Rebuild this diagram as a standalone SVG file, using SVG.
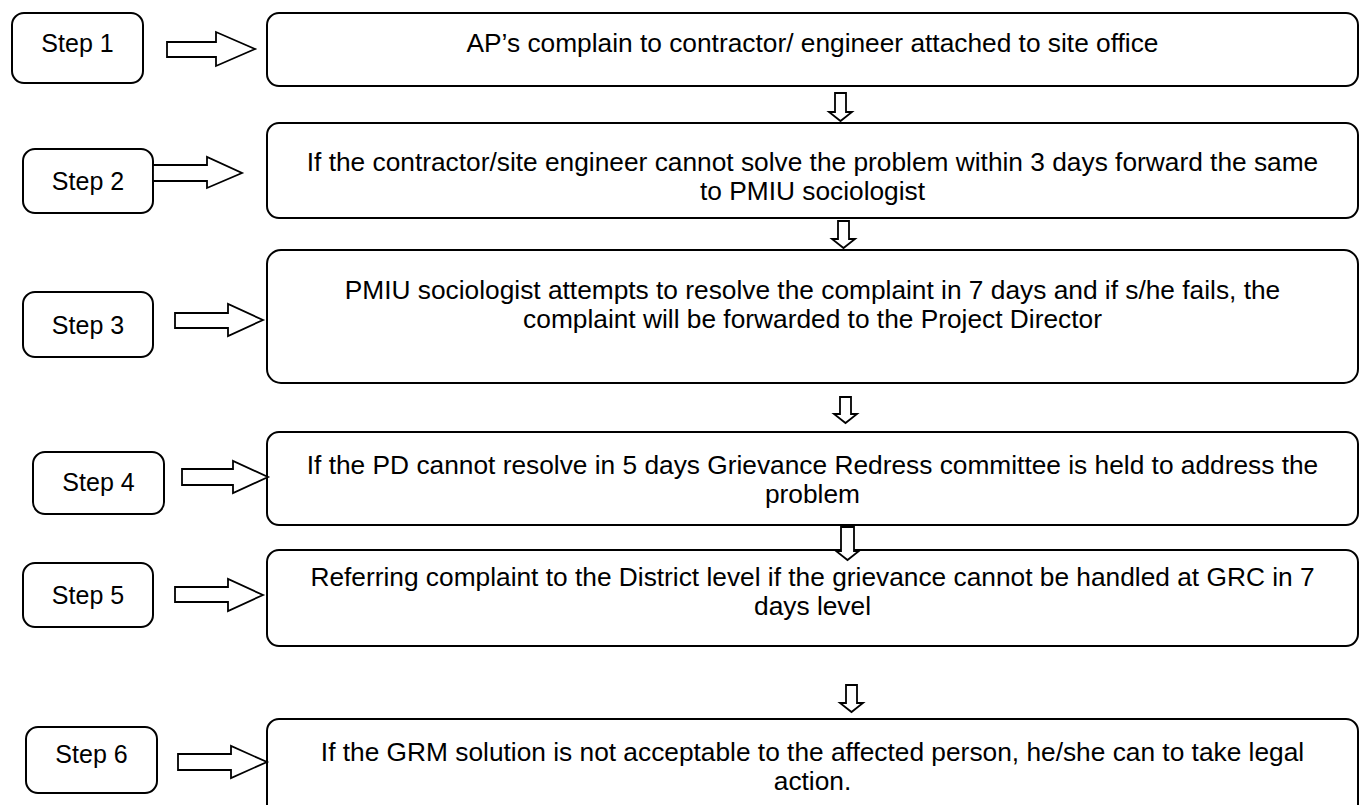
<svg xmlns="http://www.w3.org/2000/svg" width="1359" height="805" viewBox="0 0 1359 805">
<style>
.box{fill:#fff;stroke:#000;stroke-width:2}
.arr{fill:#fff;stroke:#000;stroke-width:1.8;stroke-linejoin:miter}
text{font-family:"Liberation Sans",Arial,sans-serif;font-size:26.3px;fill:#000;text-anchor:middle}
text.s{font-size:25px}
</style>
<rect width="1359" height="805" fill="#fff"/>
<g id="step1"><rect class="box" x="12" y="13" width="131" height="70" rx="12"/><text class="s" x="77.5" y="52">Step 1</text></g>
<g id="step2"><rect class="box" x="23" y="149" width="130" height="64" rx="12"/><text class="s" x="88" y="190">Step 2</text></g>
<g id="step3"><rect class="box" x="23" y="292" width="130" height="65" rx="12"/><text class="s" x="88" y="334">Step 3</text></g>
<g id="step4"><rect class="box" x="33" y="452" width="131" height="62" rx="12"/><text class="s" x="98.5" y="491">Step 4</text></g>
<g id="step5"><rect class="box" x="23" y="563" width="130" height="64" rx="12"/><text class="s" x="88" y="604">Step 5</text></g>
<g id="step6"><rect class="box" x="26" y="727" width="131" height="66" rx="12"/><text class="s" x="91.5" y="763">Step 6</text></g>

<g id="box1"><rect class="box" x="267" y="13" width="1091" height="73" rx="12"/><text x="812.5" y="52">AP’s complain to contractor/ engineer attached to site office</text></g>
<g id="box2"><rect class="box" x="267" y="123" width="1091" height="95" rx="12"/><text x="812.5" y="171">If the contractor/site engineer cannot solve the problem within 3 days forward the same</text><text x="812.5" y="200">to PMIU sociologist</text></g>
<g id="box3"><rect class="box" x="267" y="250" width="1091" height="133" rx="14"/><text x="812.5" y="299">PMIU sociologist attempts to resolve the complaint in 7 days and if s/he fails, the</text><text x="812.5" y="328">complaint will be forwarded to the Project Director</text></g>
<g id="box4"><rect class="box" x="267" y="432" width="1091" height="93" rx="12"/><text x="812.5" y="474">If the PD cannot resolve in 5 days Grievance Redress committee is held to address the</text><text x="812.5" y="503">problem</text></g>
<g id="box5"><rect class="box" x="267" y="550" width="1091" height="96" rx="12"/><text x="812.5" y="586">Referring complaint to the District level if the grievance cannot be handled at GRC in 7</text><text x="812.5" y="615">days level</text></g>
<g id="box6"><rect class="box" x="267" y="719" width="1091" height="110" rx="12"/><text x="812.5" y="761">If the GRM solution is not acceptable to the affected person, he/she can to take legal</text><text x="812.5" y="790">action.</text></g>

<g id="connectors">
<path class="arr" d="M167 42 H216 V32 L255 49 L216 66 V57 H167 Z"/>
<path class="arr" d="M153 165 H207 V157 L242 173 L207 188 V181 H153 Z"/>
<path class="arr" d="M175 313 H228 V304 L263 320 L228 336 V328 H175 Z"/>
<path class="arr" d="M182 469 H233 V461 L268 477 L233 493 V485 H182 Z"/>
<path class="arr" d="M175 587 H228 V579 L263 595 L228 611 V602 H175 Z"/>
<path class="arr" d="M178 754 H231 V746 L267 762 L231 778 V770 H178 Z"/>
<path class="arr" d="M835 93 H846 V112 H852 L840.5 121 L829 112 H835 Z"/>
<path class="arr" d="M838 221 H849 V239 H855 L843.5 248 L832 239 H838 Z"/>
<path class="arr" d="M840 397 H851 V414 H857 L845.5 423 L834 414 H840 Z"/>
<path class="arr" d="M841 527 H854 V551 H859 L847.5 560 L836 551 H841 Z"/>
<path class="arr" d="M846 685 H857 V703 H863 L851.5 712 L840 703 H846 Z"/>
</g>
</svg>
